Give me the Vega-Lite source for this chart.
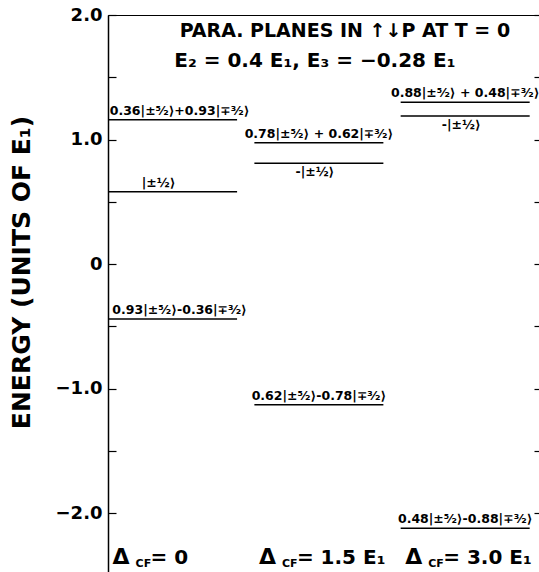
{
  "$schema": "https://vega.github.io/schema/vega-lite/v6.json",
  "width": 432,
  "height": 558,
  "autosize": {"type": "none"},
  "padding": {"left": 108, "top": 15, "right": 0, "bottom": 0},
  "background": "white",
  "config": {
    "view": {"stroke": "black", "strokeWidth": 1},
    "text": {"font": "DejaVu Sans", "fontWeight": "bold", "color": "black"}
  },
  "datasets": {
    "levels": [
      {"case": "0", "energy": 1.16, "label": "0.36|±⁵⁄₂⟩+0.93|∓³⁄₂⟩", "side": "above"},
      {"case": "0", "energy": 0.58, "label": "|±½⟩", "side": "above"},
      {"case": "0", "energy": -0.44, "label": "0.93|±⁵⁄₂⟩-0.36|∓³⁄₂⟩", "side": "above"},
      {"case": "1.5", "energy": 0.975, "label": "0.78|±⁵⁄₂⟩ + 0.62|∓³⁄₂⟩", "side": "above"},
      {"case": "1.5", "energy": 0.81, "label": "-|±½⟩", "side": "below"},
      {"case": "1.5", "energy": -1.13, "label": "0.62|±⁵⁄₂⟩-0.78|∓³⁄₂⟩", "side": "above"},
      {"case": "3.0", "energy": 1.30, "label": "0.88|±⁵⁄₂⟩ + 0.48|∓³⁄₂⟩", "side": "above"},
      {"case": "3.0", "energy": 1.19, "label": "-|±½⟩", "side": "below"},
      {"case": "3.0", "energy": -2.12, "label": "0.48|±⁵⁄₂⟩-0.88|∓³⁄₂⟩", "side": "above"}
    ],
    "cases": [
      {"case": "0", "val": "= 0"},
      {"case": "1.5", "val": "= 1.5 E₁"},
      {"case": "3.0", "val": "= 3.0 E₁"}
    ]
  },
  "layer": [
    {
      "data": {"name": "levels"},
      "mark": {"type": "tick", "size": 129, "thickness": 1.5, "color": "black", "opacity": 1},
      "encoding": {
        "x": {"field": "case", "type": "nominal", "scale": {"type": "band", "domain": ["0", "1.5", "3.0"], "paddingInner": 0.117, "paddingOuter": 0.035, "align": 0}, "axis": null},
        "y": {
          "field": "energy", "type": "quantitative",
          "scale": {"domain": [-2.48, 2.0], "nice": false, "zero": false},
          "axis": {
            "orient": "left",
            "values": [-2, -1.5, -1, -0.5, 0, 0.5, 1, 1.5, 2],
            "grid": false,
            "tickSize": -8,
            "tickWidth": 1.2,
            "tickColor": "black",
            "domainColor": "black",
            "domainWidth": 1.5,
            "labelFont": "DejaVu Sans",
            "labelFontWeight": "bold",
            "labelFontSize": 18,
            "labelColor": "black",
            "labelPadding": 14,
            "labelFlush": false,
            "labelOverlap": false,
            "labelExpr": "datum.value == 0 ? '0' : (datum.value % 1 == 0 ? format(datum.value, '.1f') : '')",
            "title": "ENERGY (UNITS OF E₁)",
            "titleFont": "DejaVu Sans",
            "titleFontWeight": "bold",
            "titleFontSize": 25,
            "titleColor": "black",
            "titleAngle": 270,
            "titleX": -79,
            "titleY": 257,
            "titleAlign": "center",
            "titleBaseline": "alphabetic"
          }
        }
      }
    },
    {
      "data": {"name": "levels"},
      "transform": [{"filter": "datum.side == 'above' && datum.case != '0'"}],
      "mark": {"type": "text", "fontSize": 12.5, "align": "center", "baseline": "alphabetic", "dy": -5},
      "encoding": {
        "x": {"field": "case", "type": "nominal", "scale": {"type": "band", "domain": ["0", "1.5", "3.0"], "paddingInner": 0.117, "paddingOuter": 0.035, "align": 0}, "axis": null},
        "y": {
          "field": "energy", "type": "quantitative",
          "scale": {"domain": [-2.48, 2.0], "nice": false, "zero": false},
          "axis": {
            "orient": "right",
            "values": [-2, -1.5, -1, -0.5, 0, 0.5, 1, 1.5, 2],
            "grid": false,
            "tickSize": -6,
            "tickWidth": 1.2,
            "tickColor": "black",
            "domain": false,
            "labels": false,
            "title": null
          }
        },
        "text": {"field": "label", "type": "nominal"}
      }
    },
    {
      "data": {"name": "levels"},
      "transform": [{"filter": "datum.side == 'above' && datum.case == '0' && length(datum.label) > 6"}],
      "mark": {"type": "text", "fontSize": 12.5, "align": "center", "baseline": "alphabetic", "dy": -5, "dx": 7},
      "encoding": {
        "x": {"field": "case", "type": "nominal", "scale": {"type": "band", "domain": ["0", "1.5", "3.0"], "paddingInner": 0.117, "paddingOuter": 0.035, "align": 0}, "axis": null},
        "y": {"field": "energy", "type": "quantitative", "scale": {"domain": [-2.48, 2.0], "nice": false, "zero": false}, "axis": null},
        "text": {"field": "label", "type": "nominal"}
      }
    },
    {
      "data": {"name": "levels"},
      "transform": [{"filter": "datum.side == 'above' && datum.case == '0' && length(datum.label) <= 6"}],
      "mark": {"type": "text", "fontSize": 12.5, "align": "center", "baseline": "alphabetic", "dy": -5, "dx": -14},
      "encoding": {
        "x": {"field": "case", "type": "nominal", "scale": {"type": "band", "domain": ["0", "1.5", "3.0"], "paddingInner": 0.117, "paddingOuter": 0.035, "align": 0}, "axis": null},
        "y": {"field": "energy", "type": "quantitative", "scale": {"domain": [-2.48, 2.0], "nice": false, "zero": false}, "axis": null},
        "text": {"field": "label", "type": "nominal"}
      }
    },
    {
      "data": {"name": "levels"},
      "transform": [{"filter": "datum.side == 'below'"}],
      "mark": {"type": "text", "fontSize": 12.5, "align": "center", "baseline": "top", "dy": 3, "dx": -4},
      "encoding": {
        "x": {"field": "case", "type": "nominal", "scale": {"type": "band", "domain": ["0", "1.5", "3.0"], "paddingInner": 0.117, "paddingOuter": 0.035, "align": 0}, "axis": null},
        "y": {"field": "energy", "type": "quantitative", "scale": {"domain": [-2.48, 2.0], "nice": false, "zero": false}, "axis": null},
        "text": {"field": "label", "type": "nominal"}
      }
    },
    {
      "data": {"values": [{}]},
      "mark": {"type": "text", "text": "PARA. PLANES IN ↑↓P AT T = 0", "fontSize": 19, "align": "center", "baseline": "alphabetic", "dx": 26},
      "encoding": {
        "x": {"datum": "1.5", "type": "nominal", "scale": {"type": "band", "domain": ["0", "1.5", "3.0"], "paddingInner": 0.117, "paddingOuter": 0.035, "align": 0}, "axis": null},
        "y": {"datum": 1.823, "type": "quantitative", "scale": {"domain": [-2.48, 2.0], "nice": false, "zero": false}, "axis": null}
      }
    },
    {
      "data": {"values": [{}]},
      "mark": {"type": "text", "text": "E₂ = 0.4 E₁, E₃ = −0.28 E₁", "fontSize": 20, "align": "center", "baseline": "alphabetic", "dx": -4},
      "encoding": {
        "x": {"datum": "1.5", "type": "nominal", "scale": {"type": "band", "domain": ["0", "1.5", "3.0"], "paddingInner": 0.117, "paddingOuter": 0.035, "align": 0}, "axis": null},
        "y": {"datum": 1.582, "type": "quantitative", "scale": {"domain": [-2.48, 2.0], "nice": false, "zero": false}, "axis": null}
      }
    },
    {
      "data": {"name": "cases"},
      "mark": {"type": "text", "text": "Δ", "fontSize": 22, "align": "left", "baseline": "alphabetic", "dx": -60},
      "encoding": {
        "x": {"field": "case", "type": "nominal", "scale": {"type": "band", "domain": ["0", "1.5", "3.0"], "paddingInner": 0.117, "paddingOuter": 0.035, "align": 0}, "axis": null},
        "y": {"datum": -2.41, "type": "quantitative", "scale": {"domain": [-2.48, 2.0], "nice": false, "zero": false}, "axis": null}
      }
    },
    {
      "data": {"name": "cases"},
      "mark": {"type": "text", "text": "CF", "fontSize": 11, "align": "left", "baseline": "alphabetic", "dx": -37, "dy": 3},
      "encoding": {
        "x": {"field": "case", "type": "nominal", "scale": {"type": "band", "domain": ["0", "1.5", "3.0"], "paddingInner": 0.117, "paddingOuter": 0.035, "align": 0}, "axis": null},
        "y": {"datum": -2.41, "type": "quantitative", "scale": {"domain": [-2.48, 2.0], "nice": false, "zero": false}, "axis": null}
      }
    },
    {
      "data": {"name": "cases"},
      "mark": {"type": "text", "fontSize": 20, "align": "left", "baseline": "alphabetic", "dx": -22},
      "encoding": {
        "x": {"field": "case", "type": "nominal", "scale": {"type": "band", "domain": ["0", "1.5", "3.0"], "paddingInner": 0.117, "paddingOuter": 0.035, "align": 0}, "axis": null},
        "y": {"datum": -2.41, "type": "quantitative", "scale": {"domain": [-2.48, 2.0], "nice": false, "zero": false}, "axis": null},
        "text": {"field": "val", "type": "nominal"}
      }
    }
  ],
  "resolve": {"scale": {"x": "shared", "y": "shared"}, "axis": {"y": "independent"}}
}
